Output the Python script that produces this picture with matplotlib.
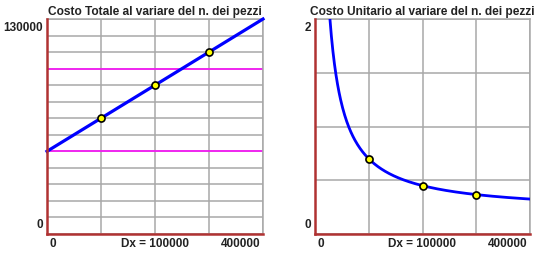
import matplotlib
matplotlib.use('Agg')
import matplotlib.pyplot as plt
import numpy
from matplotlib.transforms import offset_copy

plt.rcParams['font.family'] = ['Liberation Sans', 'DejaVu Sans']

# fixed cost and variable cost per piece
FIXED_COST = 50000
VAR_COST = 0.2
X_MAX = 400000
DX = 100000

# marked points (number of pieces)
POINTS_X = [100000, 200000, 300000]
# horizontal reference lines on the total cost chart
REF_LINES = [50000, 100000]

TITLES = ['Costo Totale al variare del n. dei pezzi',
          'Costo Unitario al variare del n. dei pezzi']
Y_MAX = [130000, 2]
Y_STEP = [10000, 0.5]
X_LABELS = ['0', 'Dx = 100000', '400000']

SPINE_RED = '#b03232'
GRID_GRAY = '#a8a8a8'
TXT = '#222222'


def total_cost(x):
    return FIXED_COST + VAR_COST * numpy.asarray(x, dtype=float)


def unit_cost(x):
    x = numpy.asarray(x, dtype=float)
    return total_cost(x) / x


def style_ax(ax, idx):
    """ grid, spines and text labels in the style of the original """
    ax.set_xlim(0, X_MAX)
    ax.set_ylim(0, Y_MAX[idx])
    ax.set_xticks(numpy.arange(0, X_MAX + 1, DX))
    ax.set_yticks(numpy.arange(0, Y_MAX[idx] + Y_STEP[idx] / 2, Y_STEP[idx]))
    ax.tick_params(length=0, labelbottom=False, labelleft=False)
    ax.grid(True, color=GRID_GRAY, linewidth=1.1)
    ax.set_axisbelow(True)
    for s in ['left', 'bottom']:
        ax.spines[s].set_color(SPINE_RED)
        ax.spines[s].set_linewidth(1.8)
        ax.spines[s].set_zorder(5)
    for s in ['top', 'right']:
        ax.spines[s].set_color(GRID_GRAY)
        ax.spines[s].set_linewidth(1.1)

    ax.set_title(TITLES[idx], fontsize=8.6, fontweight='bold', pad=3, color=TXT)

    ymax_label = '{:d}'.format(int(Y_MAX[idx]))
    ax.text(-0.02, 0.985, ymax_label, transform=ax.transAxes, ha='right', va='top',
            fontsize=8.5, fontweight='bold', color=TXT)
    ax.text(-0.02, 0.015, '0', transform=ax.transAxes, ha='right', va='bottom',
            fontsize=8.5, fontweight='bold', color=TXT)

    # bottom labels, 10 px below the axis
    tb = offset_copy(ax.transAxes, fig=ax.figure, x=0, y=-10, units='dots')
    ax.text(0.01, 0, X_LABELS[0], transform=tb, ha='left', va='center',
            fontsize=8.5, fontweight='bold', color=TXT)
    ax.text(0.5, 0, X_LABELS[1], transform=tb, ha='center', va='center',
            fontsize=8.5, fontweight='bold', color=TXT)
    ax.text(0.99, 0, X_LABELS[2], transform=tb, ha='right', va='center',
            fontsize=8.5, fontweight='bold', color=TXT)


fig = plt.figure(figsize=(5.39, 2.54), dpi=100)
ax1 = fig.add_axes([47 / 539, 20 / 254, 216 / 539, 215 / 254])
ax2 = fig.add_axes([315 / 539, 20 / 254, 215 / 539, 215 / 254])

# total cost
style_ax(ax1, 0)
for y in REF_LINES:
    ax1.axhline(y, color='#ff00ff', linewidth=1.1, zorder=2)
xs = numpy.array([0, X_MAX])
ax1.plot(xs, total_cost(xs), color='#0000ff', linewidth=2.3, zorder=3, clip_on=False)
ax1.scatter(POINTS_X, total_cost(POINTS_X), s=26, color='#ffff00', edgecolors='black',
            linewidths=1.2, zorder=4)

# unit cost
style_ax(ax2, 1)
xs2 = numpy.linspace(20000, X_MAX, 400)
ax2.plot(xs2, unit_cost(xs2), color='#0000ff', linewidth=2.0, zorder=3)
ax2.scatter(POINTS_X, unit_cost(POINTS_X), s=26, color='#ffff00', edgecolors='black',
            linewidths=1.2, zorder=4)

fig.savefig('out.png', dpi=100)
